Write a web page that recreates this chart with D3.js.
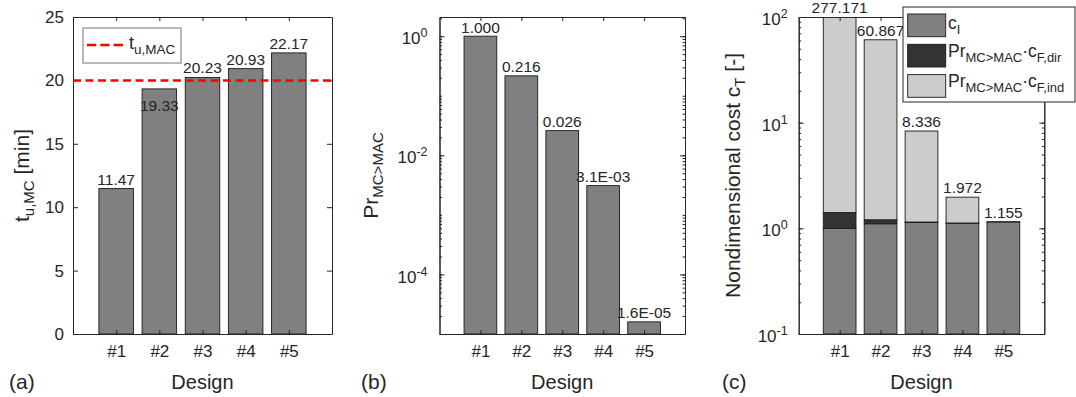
<!DOCTYPE html>
<html>
<head>
  <meta charset="utf-8">
  <title>Design comparison</title>
  <script src="https://d3js.org/d3.v7.min.js"></script>
  <style>
    body { margin: 0; background: #fff; }
    svg text { font-family: "Liberation Sans", Arial, Helvetica, sans-serif; fill: #262626; }
  </style>
</head>
<body>
<script>
// values
var designs = ["#1", "#2", "#3", "#4", "#5"];
var tuMC = [11.47, 19.33, 20.23, 20.93, 22.17];      // (a) t_u,MC [min]
var tuMAC = 20;                                       // red dashed limit
var prExceed = [1.0, 0.216, 0.026, 3.1e-3, 1.6e-5];  // (b) Pr_MC>MAC
var costI    = [1.000, 1.105, 1.135, 1.120, 1.150];   // (c) stacked parts
var costFdir = [0.410, 0.100, 0.012, 0.003, 0.000];
var costFind = [275.761, 59.662, 7.189, 0.849, 0.005];

var ticksA = [0, 5, 10, 15, 20, 25];
var ticksB = [1e-4, 1e-2, 1];
var ticksC = [0.1, 1, 10, 100];

var width = 1076, height = 397;
var axisColor = "#262626";
var grey = "#808080", dark = "#333333", light = "#cccccc";

var svg = d3.select("body").append("svg")
    .attr("width", width)
    .attr("height", height);

// text with sub/superscripts built from tspans
function richText(sel, parts, subSize, shift) {
  var cur = 0;
  parts.forEach(function(p) {
    var target = p.sub ? shift : (p.sup ? -shift : 0);
    var t = sel.append("tspan").text(p.t);
    if (target !== cur) t.attr("dy", target - cur);
    if (p.sub || p.sup) t.attr("font-size", subSize);
    cur = target;
  });
  return sel;
}

function logLabels(g) {
  g.selectAll(".tick text").each(function(d) {
    var e = Math.round(Math.log10(d));
    var t = d3.select(this).text(null).attr("dy", "0.45em");
    richText(t, [{t: "10"}, {t: String(e), sup: true}], 12.5, 7);
  });
}

function styleAxis(g) {
  g.attr("color", axisColor)
   .attr("font-size", 17)
   .attr("font-family", null);
  g.selectAll("path, line").attr("stroke-width", 1);
}

// box with inward ticks on all sides
function frame(g, x, y, yTicks, pad, minor, isLog) {
  var xt = d3.range(1, designs.length + 1);
  var bottom = y.range()[0], top = y.range()[1];
  var left = x.range()[0], right = x.range()[1];

  g.append("g").attr("transform", "translate(0," + bottom + ")")
    .call(d3.axisBottom(x).tickValues(xt)
      .tickFormat(function(d) { return designs[d - 1]; })
      .tickSizeInner(-4).tickSizeOuter(0).tickPadding(11))
    .call(styleAxis);
  g.append("g").attr("transform", "translate(0," + top + ")")
    .call(d3.axisTop(x).tickValues(xt).tickFormat("")
      .tickSizeInner(-4).tickSizeOuter(0))
    .call(styleAxis);

  var la = g.append("g").attr("transform", "translate(" + left + ",0)")
    .call(d3.axisLeft(y).tickValues(yTicks)
      .tickFormat(isLog ? "" : d3.format("d"))
      .tickSizeInner(-5).tickSizeOuter(0).tickPadding(pad))
    .call(styleAxis);
  if (isLog) la.call(logLabels);
  g.append("g").attr("transform", "translate(" + right + ",0)")
    .call(d3.axisRight(y).tickValues(yTicks).tickFormat("")
      .tickSizeInner(-5).tickSizeOuter(0))
    .call(styleAxis);

  if (minor) {
    g.append("g").attr("transform", "translate(" + left + ",0)")
      .call(d3.axisLeft(y).tickValues(minor).tickFormat("")
        .tickSizeInner(-2.5).tickSizeOuter(0))
      .call(styleAxis);
    g.append("g").attr("transform", "translate(" + right + ",0)")
      .call(d3.axisRight(y).tickValues(minor).tickFormat("")
        .tickSizeInner(-2.5).tickSizeOuter(0))
      .call(styleAxis);
  }

  g.append("text")
    .attr("x", (left + right) / 2)
    .attr("y", 389)
    .attr("text-anchor", "middle")
    .attr("font-size", 20)
    .text("Design");
}

function minorTicks(lo, hi) {
  var out = [];
  for (var e = Math.floor(Math.log10(lo)); e <= Math.ceil(Math.log10(hi)); e++) {
    for (var k = 1; k < 10; k++) {
      var v = k * Math.pow(10, e);
      if (v >= lo * 0.999 && v <= hi * 1.001) out.push(v);
    }
  }
  return out;
}

function yLabel(xPos, yPos, parts) {
  var t = svg.append("text")
    .attr("transform", "translate(" + xPos + "," + yPos + ") rotate(-90)")
    .attr("text-anchor", "middle")
    .attr("font-size", 21);
  richText(t, parts, 15, 5);
}

function tag(xPos, s) {
  svg.append("text").attr("x", xPos).attr("y", 389)
    .attr("font-size", 21).text(s);
}

// ---------- (a) ----------
var gA = svg.append("g");
var xA = d3.scaleLinear().domain([0, 6]).range([73, 332]);
var yA = d3.scaleLinear().domain([0, 25]).range([334, 17]);

gA.selectAll("rect.bar").data(tuMC).enter().append("rect")
  .attr("class", "bar")
  .attr("x", function(d, i) { return xA(i + 0.6); })
  .attr("width", xA(0.8) - xA(0))
  .attr("y", function(d) { return yA(d); })
  .attr("height", function(d) { return yA(0) - yA(d); })
  .attr("fill", grey).attr("stroke", "#1a1a1a").attr("stroke-width", 0.9);

frame(gA, xA, yA, ticksA, 9, null, false);

gA.append("line")
  .attr("x1", xA.range()[0]).attr("x2", xA.range()[1])
  .attr("y1", yA(tuMAC)).attr("y2", yA(tuMAC))
  .attr("stroke", "#ff0000").attr("stroke-width", 2.5)
  .attr("stroke-dasharray", "8,4.5");

gA.selectAll("text.val").data(tuMC).enter().append("text")
  .attr("class", "val")
  .attr("x", function(d, i) { return xA(i + 1); })
  .attr("y", function(d) {
    // label sitting just under the limit line is pushed below the bar top
    return (d < tuMAC && d > tuMAC - 1.5) ? yA(d) + 22 : yA(d) - 4;
  })
  .attr("text-anchor", "middle").attr("font-size", 15.5)
  .text(function(d) { return d3.format(".2f")(d); });

var legA = gA.append("g");
legA.append("rect").attr("x", 83).attr("y", 28).attr("width", 98).attr("height", 35)
  .attr("fill", "#fff").attr("stroke", "#777").attr("stroke-width", 1);
legA.append("line").attr("x1", 87).attr("x2", 126).attr("y1", 45).attr("y2", 45)
  .attr("stroke", "#ff0000").attr("stroke-width", 2.5).attr("stroke-dasharray", "9.3,4");
richText(legA.append("text").attr("x", 129).attr("y", 49).attr("font-size", 18),
  [{t: "t"}, {t: "u,MAC", sub: true}], 13.5, 5);

yLabel(29, 175.5, [{t: "t"}, {t: "u,MC", sub: true}, {t: " [min]"}]);
tag(9, "(a)");

// ---------- (b) ----------
var gB = svg.append("g");
var xB = d3.scaleLinear().domain([0, 6]).range([439.5, 685]);
var yB = d3.scaleLog().domain([1e-5, 2.1]).range([334, 17]);

gB.selectAll("rect.bar").data(prExceed).enter().append("rect")
  .attr("class", "bar")
  .attr("x", function(d, i) { return xB(i + 0.6); })
  .attr("width", xB(0.8) - xB(0))
  .attr("y", function(d) { return yB(d); })
  .attr("height", function(d) { return yB.range()[0] - yB(d); })
  .attr("fill", grey).attr("stroke", "#1a1a1a").attr("stroke-width", 0.9);

frame(gB, xB, yB, ticksB, 12, minorTicks(1e-5, 2.1), true);

function fmtPr(v) {
  if (v >= 0.01) return d3.format(".3f")(v);
  var e = Math.floor(Math.log10(v));
  var m = v / Math.pow(10, e);
  var es = Math.abs(e) < 10 ? "0" + Math.abs(e) : String(Math.abs(e));
  return m.toFixed(1) + "E" + (e < 0 ? "-" : "+") + es;
}

gB.selectAll("text.val").data(prExceed).enter().append("text")
  .attr("class", "val")
  .attr("x", function(d, i) { return xB(i + 1); })
  .attr("y", function(d) { return yB(d) - 3.5; })
  .attr("text-anchor", "middle").attr("font-size", 15.5)
  .text(fmtPr);

yLabel(378, 175.5, [{t: "Pr"}, {t: "MC>MAC", sub: true}]);
tag(361, "(b)");

// ---------- (c) ----------
var gC = svg.append("g");
var xC = d3.scaleLinear().domain([0, 6]).range([798.7, 1044.3]);
var yC = d3.scaleLog().domain([0.1, 100]).range([334, 17]);

svg.append("defs").append("clipPath").attr("id", "clipC")
  .append("rect").attr("x", 798.7).attr("y", 17)
  .attr("width", 1044.3 - 798.7).attr("height", 334 - 17);

var stack = designs.map(function(name, i) {
  var parts = [costI[i], costFdir[i], costFind[i]];
  var cols = [grey, dark, light];
  var cum = 0, segs = [];
  parts.forEach(function(v, k) {
    segs.push({i: i, y0: cum, y1: cum + v, c: cols[k]});
    cum += v;
  });
  return {i: i, total: cum, segs: segs};
});

var barsC = gC.append("g").attr("clip-path", "url(#clipC)");
stack.forEach(function(s) {
  barsC.selectAll(null).data(s.segs.filter(function(d) { return d.y1 > d.y0; }))
    .enter().append("rect")
    .attr("x", function(d) { return xC(d.i + 0.6); })
    .attr("width", xC(0.8) - xC(0))
    .attr("y", function(d) { return yC(d.y1); })
    .attr("height", function(d) {
      var b = d.y0 > 0 ? yC(d.y0) : yC.range()[0];
      return b - yC(d.y1);
    })
    .attr("fill", function(d) { return d.c; })
    .attr("stroke", "#1a1a1a").attr("stroke-width", 0.9);
});

frame(gC, xC, yC, ticksC, 11, minorTicks(0.1, 100), true);

gC.selectAll("text.val").data(stack).enter().append("text")
  .attr("class", "val")
  .attr("x", function(d) { return xC(d.i + 1); })
  .attr("y", function(d) { return Math.max(yC(d.total), yC.range()[1]) - 4; })
  .attr("text-anchor", "middle").attr("font-size", 15.5)
  .text(function(d) { return d3.format(".3f")(d.total); });

var legItems = [
  {c: grey,  parts: [{t: "c"}, {t: "I", sub: true}]},
  {c: dark,  parts: [{t: "Pr"}, {t: "MC>MAC", sub: true}, {t: "\u00b7c"}, {t: "F,dir", sub: true}]},
  {c: light, parts: [{t: "Pr"}, {t: "MC>MAC", sub: true}, {t: "\u00b7c"}, {t: "F,ind", sub: true}]}
];
var legC = svg.append("g");
legC.append("rect").attr("x", 903).attr("y", 7).attr("width", 172).attr("height", 95)
  .attr("fill", "#fff").attr("stroke", axisColor).attr("stroke-width", 1);
legItems.forEach(function(d, k) {
  var cy = 25.3 + k * 30.3;
  legC.append("rect").attr("x", 907.7).attr("y", cy - 11.3)
    .attr("width", 38).attr("height", 22.7)
    .attr("fill", d.c).attr("stroke", "#1a1a1a").attr("stroke-width", 0.9);
  richText(legC.append("text").attr("x", 948).attr("y", cy + (k === 0 ? 4 : 1.5))
    .attr("font-size", 17.5), d.parts, 13, 5);
});

yLabel(740, 175.5, [{t: "Nondimensional cost c"}, {t: "T", sub: true}, {t: " [-]"}]);
tag(722, "(c)");
</script>
</body>
</html>
